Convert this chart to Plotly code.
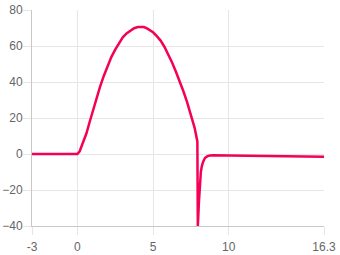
import plotly.graph_objects as go

x_vals = [-3, -2, -1, -0.5, 0, 0.15, 0.3, 0.45, 0.6, 0.8, 1.0, 1.25, 1.5, 1.75, 2.0, 2.25,
          2.5, 2.75, 3.0, 3.25, 3.5, 3.75, 4.0, 4.2, 4.4, 4.6, 4.8, 5.0, 5.25, 5.5, 5.75,
          6.0, 6.25, 6.5, 6.75, 7.0, 7.25, 7.5, 7.75, 7.93, 7.96, 8.0, 8.03, 8.06, 8.1,
          8.16, 8.22, 8.3, 8.43, 8.6, 8.76, 9.0, 10, 12, 14, 16.3]
y_vals = [0, 0.1, 0.2, 0.1, 0, 1.5, 4.5, 8, 11.5, 17.5, 23.5, 30.5, 37.4, 43.5, 49.2, 54,
          58, 61.8, 64.8, 67, 68.7, 69.9, 70.5, 70.7, 70.5, 69.8, 68.8, 67.6, 65.5, 63, 59.6,
          55.5, 51, 46, 40.7, 35, 28.8, 22.2, 14.5, 7, -40, -33, -27, -21.8, -14.4,
          -10, -7, -4.5, -2.2, -1.2, -0.8, -0.7, -0.8, -1.1, -1.3, -1.5]

x_ticks = [-3, 0, 5, 10, 16.3]
x_tick_text = ["-3", "0", "5", "10", "16.3"]
y_ticks = [-40, -20, 0, 20, 40, 60, 80]

fig = go.Figure()
fig.add_trace(go.Scatter(x=x_vals, y=y_vals, mode="lines",
                         line=dict(color="#f50057", width=2.5),
                         hoverinfo="skip"))

grid = "#e6e6e6"
fig.update_layout(
    width=340, height=255,
    margin=dict(l=32, r=16, t=10, b=29),
    paper_bgcolor="white", plot_bgcolor="white",
    showlegend=False,
    font=dict(family="Liberation Sans, Arial, sans-serif", size=12, color="#666666"),
    xaxis=dict(range=[-3, 16.3], tickvals=x_ticks, ticktext=x_tick_text,
               showgrid=True, gridcolor=grid, zeroline=False, automargin=False,
               showline=True, linecolor="#c8c8c8", linewidth=1,
               ticks="outside", ticklen=8, tickcolor=grid, ticklabelstandoff=2),
    yaxis=dict(range=[-40, 80], tickvals=y_ticks,
               showgrid=True, gridcolor=grid, zeroline=False, automargin=False,
               showline=True, linecolor="#c8c8c8", linewidth=1,
               ticks="outside", ticklen=8, tickcolor=grid, ticklabelstandoff=-2),
)
fig.write_html("out.html")
